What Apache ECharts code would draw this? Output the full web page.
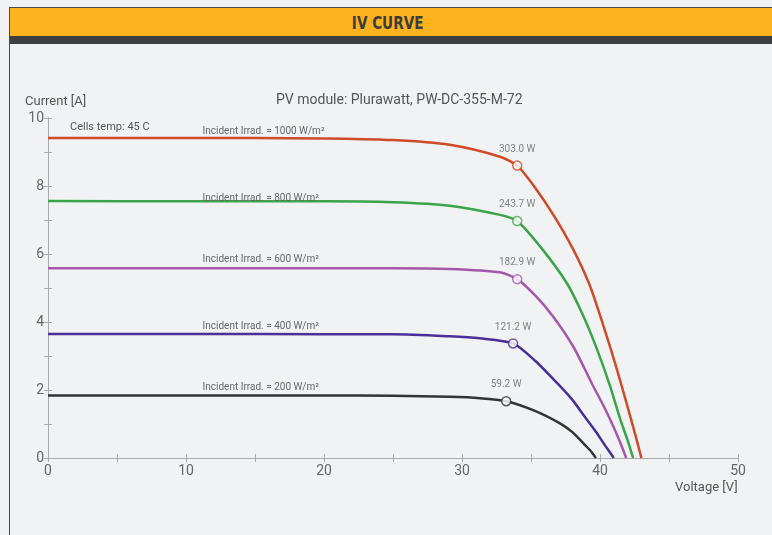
<!DOCTYPE html>
<html>
<head>
<meta charset="utf-8">
<script src="https://cdn.jsdelivr.net/npm/echarts@6/dist/echarts.min.js"></script>
<style>
  html, body { margin: 0; padding: 0; background: #f1f2f4; }
  #frame { position: absolute; left: 9px; top: 7px; width: 770px; height: 540px;
    border-left: 1px solid #4a4a4a; border-top: 1px solid #4a4a4a; }
  #head { height: 28px; background: #fdb31e; text-align: center; line-height: 29px;
    font-family: 'DejaVu Sans Condensed', 'Liberation Sans Narrow', sans-serif;
    font-weight: bold; font-size: 18px; color: #3c3c3c; }
  #head span { display: inline-block; transform: scaleX(0.84); margin-left: -14px; }
  #bar { height: 8px; background: #3f3f3f; }
  #chart { position: absolute; left: 0; top: 0; width: 772px; height: 535px; }
</style>
</head>
<body>
<div id="frame"><div id="head"><span>IV CURVE</span></div><div id="bar"></div></div>
<div id="chart"></div>
<script>
// IV curves per irradiance, [voltage V, current A]
var irr1000 = [[0, 9.41], [10, 9.41], [20, 9.40], [25, 9.35], [29.1, 9.21], [32.75, 8.86], [34.0, 8.60],
  [35.3, 7.95], [36.7, 7.10], [38.0, 6.18], [39.2, 5.14], [40.0, 4.20], [40.8, 3.18], [41.5, 2.22],
  [42.2, 1.21], [42.6, 0.62], [43.0, 0]]
var irr800 = [[0, 7.56], [10, 7.55], [20, 7.55], [25, 7.52], [29.1, 7.42], [32.75, 7.15], [34.0, 6.97],
  [35.8, 6.15], [37.6, 5.14], [38.8, 4.17], [39.8, 3.18], [40.7, 2.15], [41.5, 1.10], [42.0, 0.52], [42.4, 0]]
var irr600 = [[0, 5.58], [10, 5.58], [20, 5.58], [25, 5.58], [29.1, 5.56], [32.75, 5.46], [34.0, 5.26],
  [35.3, 4.78], [36.6, 4.16], [38.1, 3.25], [39.4, 2.20], [40.3, 1.50], [41.0, 0.90], [41.5, 0.42], [41.9, 0]]
var irr400 = [[0, 3.65], [10, 3.65], [20, 3.64], [25, 3.64], [29.1, 3.58], [31.3, 3.52], [33.7, 3.37],
  [35.3, 2.86], [36.9, 2.20], [38.0, 1.71], [38.9, 1.21], [39.7, 0.77], [40.4, 0.35], [41.0, 0]]
var irr200 = [[0, 1.84], [10, 1.84], [20, 1.84], [25, 1.83], [29.1, 1.80], [31.3, 1.76], [33.2, 1.67],
  [35.2, 1.40], [37.1, 1.02], [38.0, 0.76], [38.8, 0.43], [39.3, 0.22], [39.7, 0]]

var curveNames = ['Incident Irrad. = 1000 W/m²', 'Incident Irrad. = 800 W/m²', 'Incident Irrad. = 600 W/m²',
  'Incident Irrad. = 400 W/m²', 'Incident Irrad. = 200 W/m²']
var curveData = [irr1000, irr800, irr600, irr400, irr200]
var curveColors = ['#cf4a26', '#3ba448', '#a458a9', '#4a2f99', '#333333']
// maximum power points [V, A] and their labels
var mppPoints = [[34.0, 8.60], [34.0, 6.97], [34.0, 5.26], [33.7, 3.37], [33.2, 1.67]]
var mppLabels = ['303.0 W', '243.7 W', '182.9 W', '121.2 W', '59.2 W']
var labelVoltage = 11.2
var labelLift = [-7, -2, -9, -7, -8]

var font = 'Roboto'
var series = []
curveData.forEach(function (d, i) {
  series.push({
    name: curveNames[i],
    type: 'line',
    smooth: 0.25,
    symbol: 'none',
    data: d,
    lineStyle: { color: curveColors[i], width: 2.5 },
    markPoint: {
      symbol: 'circle',
      symbolSize: 0,
      data: [{ coord: [labelVoltage, d[0][1]], value: curveNames[i] }],
      label: {
        show: true, position: 'right', distance: 0, offset: [0, labelLift[i]],
        formatter: curveNames[i], color: '#666', fontSize: 10, fontFamily: font
      }
    },
    z: 2
  })
  series.push({
    type: 'scatter',
    data: [mppPoints[i]],
    symbol: 'circle',
    symbolSize: 9,
    itemStyle: { color: '#ffffff', borderColor: curveColors[i], borderWidth: 1.5 },
    label: {
      show: true, position: 'top', distance: 6, formatter: mppLabels[i],
      color: '#666', fontSize: 10, fontFamily: font
    },
    z: 3
  })
})

var axisCol = '#aaaaaa'
var chart = echarts.init(document.getElementById('chart'))
chart.setOption({
  animation: false,
  grid: { left: 48, top: 118, right: 34, bottom: 77 },
  title: {
    text: 'PV module: Plurawatt, PW-DC-355-M-72',
    left: 271, top: 88,
    textStyle: { fontFamily: font, fontWeight: 'normal', fontSize: 14, color: '#555' }
  },
  graphic: [
    { type: 'text', left: 25, top: 95, style: { text: 'Current [A]', font: '13px Roboto', fill: '#555' } },
    { type: 'text', left: 675, top: 481, style: { text: 'Voltage [V]', font: '13px Roboto', fill: '#555' } },
    { type: 'text', left: 70, top: 122, style: { text: 'Cells temp: 45 C', font: '11px Roboto', fill: '#555' } }
  ],
  xAxis: [{
    type: 'value', min: 0, max: 50, interval: 5,
    axisLine: { lineStyle: { color: axisCol } },
    axisTick: { inside: true, length: 4, lineStyle: { color: axisCol } },
    splitLine: { show: false },
    axisLabel: {
      color: '#666', fontSize: 14, fontFamily: font, margin: 6,
      formatter: function (v) { return v % 10 === 0 ? v : '' }
    }
  }, {
    type: 'value', position: 'top', min: 0, max: 50, interval: 5,
    axisLine: { show: true, lineStyle: { color: axisCol } },
    axisTick: { inside: true, length: 4, lineStyle: { color: axisCol } },
    splitLine: { show: false }, axisLabel: { show: false }
  }],
  yAxis: [{
    type: 'value', min: 0, max: 10, interval: 1,
    axisLine: { show: true, lineStyle: { color: axisCol } },
    axisTick: { show: true, inside: true, length: 4, lineStyle: { color: axisCol } },
    splitLine: { show: false },
    axisLabel: {
      color: '#666', fontSize: 14, fontFamily: font, margin: 4,
      formatter: function (v) { return v % 2 === 0 ? v : '' }
    }
  }, {
    type: 'value', position: 'right', min: 0, max: 10, interval: 1,
    axisLine: { show: true, lineStyle: { color: axisCol } },
    axisTick: { show: true, inside: true, length: 4, lineStyle: { color: axisCol } },
    splitLine: { show: false }, axisLabel: { show: false }
  }],
  series: series
})
</script>
</body>
</html>
